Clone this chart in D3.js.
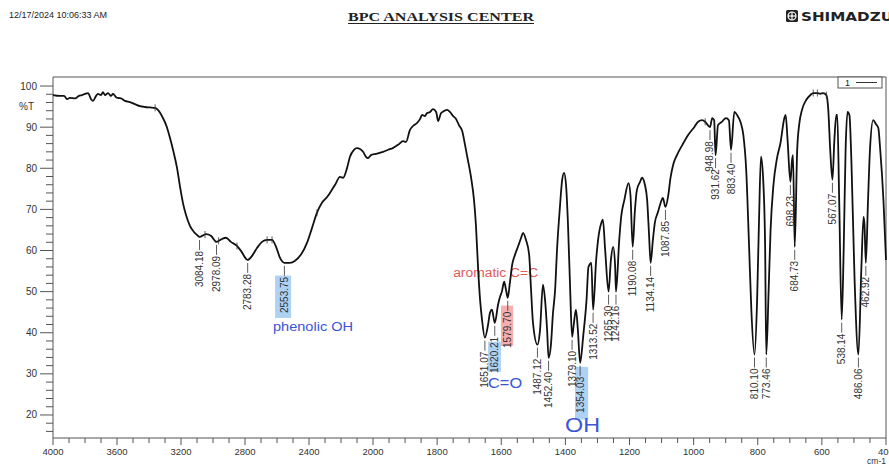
<!DOCTYPE html>
<html>
<head>
<meta charset="utf-8">
<script src="https://cdn.jsdelivr.net/npm/d3@7"></script>
<style>
	body { margin: 0; background: #fff; }
	svg { display: block; font-family: "Liberation Sans", Arial, sans-serif; }
</style>
</head>
<body>
<div id="chart"></div>
<script>
// spectrum: [wavenumber cm-1, %T]
var spectrum = [
	[4000, 97.8], [3956, 97.6], [3931, 97.6], [3912, 96.8], [3894, 97.1], [3862, 97.0], [3838, 97.6],
	[3819, 97.8], [3800, 98.1], [3781, 98.3], [3762, 96.8], [3750, 96.4], [3731, 97.6], [3719, 98.1],
	[3700, 97.8], [3688, 98.5], [3675, 97.8], [3656, 98.3], [3638, 97.6], [3625, 98.1], [3606, 97.3],
	[3594, 97.1], [3575, 97.0], [3550, 96.4], [3519, 96.1], [3488, 95.6], [3456, 95.1], [3425, 94.9],
	[3394, 94.8], [3362, 94.7], [3344, 94.2], [3319, 92.7], [3288, 90.0], [3269, 87.4], [3250, 84.5],
	[3225, 80.1], [3206, 75.5], [3188, 71.6], [3169, 68.7], [3144, 66.0], [3119, 64.5], [3100, 63.8],
	[3084.18, 63.3], [3044, 64.0], [3013, 63.6], [2978.09, 62.1], [2944, 62.8], [2919, 63.1], [2888, 62.1],
	[2850, 61.1], [2825, 59.9], [2783.28, 57.7], [2756, 58.7], [2725, 60.6], [2694, 62.1], [2662, 62.6],
	[2631, 62.6], [2606, 60.9], [2581, 58.2], [2553.75, 57.0], [2519, 57.0], [2487, 57.5], [2450, 59.0],
	[2412, 61.9], [2381, 65.5], [2350, 69.2], [2319, 71.6], [2287, 73.0], [2269, 74.0], [2237, 76.0],
	[2206, 77.9], [2187, 77.7], [2162, 80.1], [2144, 82.8], [2119, 84.5], [2100, 84.9], [2081, 84.7],
	[2062, 84.0], [2044, 82.8], [2031, 82.5], [2012, 83.2], [1991, 83.5], [1969, 84.0], [1953, 84.5],
	[1938, 84.9], [1922, 85.7], [1906, 86.6], [1897, 86.4], [1885, 89.3], [1872, 90.5], [1863, 91.0],
	[1853, 92.0], [1847, 93.0], [1838, 92.7], [1832, 93.4], [1822, 93.7], [1813, 94.4], [1803, 93.7],
	[1797, 91.5], [1788, 93.4], [1779, 93.9], [1769, 94.2], [1760, 93.7], [1750, 92.7], [1741, 92.0],
	[1732, 90.5], [1722, 89.1], [1713, 85.7], [1704, 82.0], [1694, 77.7], [1685, 72.3], [1679, 66.2],
	[1672, 55.3], [1666, 48.0], [1660, 43.2], [1651.07, 38.8], [1641, 42.0], [1635, 44.9], [1629, 45.6],
	[1620.21, 42.4], [1610, 46.8], [1604, 48.7], [1598, 50.0], [1591, 52.4], [1585, 50.4], [1579.70, 48.5],
	[1573, 52.2], [1566, 56.5], [1557, 59.0], [1548, 60.9], [1538, 63.1], [1532, 64.3], [1523, 62.6],
	[1513, 59.0], [1507, 50.4], [1501, 42.4], [1487.12, 37.1], [1479, 40.7], [1470, 51.7], [1464, 48.5],
	[1457, 40.7], [1452.40, 33.9], [1445, 37.1], [1439, 44.4], [1432, 50.5], [1426, 60.2], [1417, 70.6],
	[1410, 77.2], [1404, 78.9], [1398, 76.0], [1392, 66.7], [1385, 50.4], [1379.10, 39.0], [1374, 41.9],
	[1367, 45.6], [1361, 40.7], [1354.03, 32.7], [1344, 39.5], [1334, 48.0], [1328, 56.0], [1319, 57.0],
	[1313.52, 45.6], [1304, 57.7], [1298, 62.6], [1288, 66.7], [1283, 67.5], [1276, 60.2], [1265.30, 50.0],
	[1258, 57.7], [1251, 60.9], [1245, 56.5], [1242.16, 50.0], [1232, 62.6], [1226, 68.2], [1216, 72.3],
	[1203, 76.4], [1197, 73.5], [1190.08, 60.9], [1183, 69.9], [1177, 74.7], [1167, 76.7], [1161, 77.7],
	[1152, 76.0], [1145, 72.3], [1139, 63.8], [1134.14, 57.0], [1127, 62.6], [1121, 66.7], [1111, 69.4],
	[1102, 71.8], [1096, 72.8], [1087.85, 70.6], [1079, 73.5], [1072, 77.7], [1064, 80.8], [1052, 83.2],
	[1035, 85.7], [1017, 88.1], [998, 90.0], [986, 91.3], [973, 91.7], [964, 91.3], [948.98, 90.0],
	[942, 92.2], [936, 91.7], [931.62, 83.2], [924, 90.5], [912, 91.3], [899, 92.2], [890, 91.7],
	[883.40, 84.5], [873, 93.7], [864, 92.9], [854, 91.3], [845, 88.1], [836, 79.6], [827, 60.9],
	[820, 45.6], [810.10, 34.7], [802, 48.0], [796, 67.5], [790, 82.8], [783, 77.2], [777, 60.9],
	[773.46, 34.7], [766, 50.4], [760, 65.0], [751, 76.0], [741, 82.0], [729, 86.2], [717, 92.2],
	[713, 93.0], [707, 86.9], [698.23, 76.7], [693, 82.0], [690, 83.2], [684.73, 60.9], [677, 84.5],
	[671, 90.5], [662, 94.2], [649, 96.6], [636, 97.8], [627, 98.3], [614, 98.3], [605, 98.1],
	[596, 98.3], [586, 97.8], [580, 94.2], [574, 84.5], [567.07, 77.2], [561, 86.9], [555, 93.0],
	[552, 93.0], [546, 72.3], [538.14, 43.2], [532, 60.2], [526, 84.5], [520, 93.7], [514, 92.9],
	[508, 82.0], [498, 52.9], [486.06, 34.7], [477, 55.3], [470, 68.2], [467, 66.2], [462.92, 57.0],
	[456, 72.3], [450, 84.5], [440, 91.7], [431, 90.7], [424, 89.8], [418, 84.5], [408, 72.3], [400, 57.7]
];

// peak table printed on the chart
var peakLabels = ["3084.18", "2978.09", "2783.28", "2553.75", "1651.07", "1620.21", "1579.70", "1487.12",
	"1452.40", "1379.10", "1354.03", "1313.52", "1265.30", "1242.16", "1190.08", "1134.14", "1087.85",
	"948.98", "931.62", "883.40", "810.10", "773.46", "698.23", "684.73", "567.07", "538.14", "486.06", "462.92"];

// small pick marks sitting on the trace
var markerWn = [3362, 3050, 2965, 2850, 2662, 2631, 2350, 964, 627, 614, 586];

var xMajor = [4000, 3600, 3200, 2800, 2400, 2000, 1800, 1600, 1400, 1200, 1000, 800, 600, 400];
var yMajor = [100, 90, 80, 70, 60, 50, 40, 30, 20];

// hand-written notes on the print: [text, wavenumber, %T]
var notes = [
	["phenolic  OH", 2625, 40.5],
	["aromatic C=C", 1750, 53.6],
	["C=O", 1641, 26.6],
	["OH", 1401, 15.9]
];
// highlight boxes behind labels: [wnFrom, wnTo, %T top, %T bottom]
var highlights = [
	[2612, 2512, 53.9, 43.6],
	[1641, 1601, 37.8, 30.5],
	[1601, 1563, 46.6, 36.8],
	[1370, 1329, 31.7, 18.9]
];

var blue = "#3a55d6", red = "#e25a5a";
var noteStyle = [
	{ color: blue, size: 12.5, len: 80 },
	{ color: red, size: 12.5, len: 85 },
	{ color: blue, size: 15, len: 34 },
	{ color: blue, size: 21, len: 35 }
];
var hlColor = ["rgba(120,180,235,0.6)", "rgba(120,180,235,0.6)", "rgba(240,120,120,0.6)", "rgba(120,180,235,0.6)"];

var width = 889, height = 464;
var x = d3.scaleLinear().domain([4000, 2000, 400]).range([53, 373, 886]);
var y = d3.scaleLinear().domain([14.4, 102.2]).range([438, 77]);

var svg = d3.select("#chart")
	.append("svg")
	.attr("width", width)
	.attr("height", height);

// header
svg.append("text")
	.attr("x", 9)
	.attr("y", 18)
	.style("font-size", "9px")
	.style("fill", "#222")
	.text("12/17/2024 10:06:33 AM");
svg.append("text")
	.attr("x", 441)
	.attr("y", 21)
	.attr("text-anchor", "middle")
	.attr("textLength", 186)
	.attr("lengthAdjust", "spacingAndGlyphs")
	.style("font-family", "'Liberation Serif', 'Times New Roman', serif")
	.style("font-weight", "bold")
	.style("font-size", "13px")
	.style("fill", "#222")
	.text("BPC ANALYSIS CENTER");
svg.append("line")
	.attr("x1", 348).attr("x2", 534)
	.attr("y1", 23.5).attr("y2", 23.5)
	.style("stroke", "#222");

var logo = svg.append("g").attr("transform", "translate(786,10)");
logo.append("rect").attr("width", 12).attr("height", 12).attr("rx", 1.5).style("fill", "#222");
logo.append("circle").attr("cx", 6).attr("cy", 6).attr("r", 4).style("fill", "none").style("stroke", "#fff").style("stroke-width", 1.2);
logo.append("line").attr("x1", 2).attr("x2", 10).attr("y1", 6).attr("y2", 6).style("stroke", "#fff").style("stroke-width", 1.2);
logo.append("line").attr("x1", 6).attr("x2", 6).attr("y1", 2).attr("y2", 10).style("stroke", "#fff").style("stroke-width", 1.2);
svg.append("text")
	.attr("x", 801)
	.attr("y", 21)
	.attr("textLength", 92)
	.attr("lengthAdjust", "spacingAndGlyphs")
	.style("font-family", "'DejaVu Sans', Arial, sans-serif")
	.style("font-weight", "bold")
	.style("font-size", "12px")
	.style("fill", "#222")
	.text("SHIMADZU");

// highlight boxes go under the trace
svg.selectAll("rect.hl")
	.data(highlights)
	.enter()
	.append("rect")
	.attr("class", "hl")
	.attr("x", function(d) { return x(d[0]); })
	.attr("width", function(d) { return x(d[1]) - x(d[0]); })
	.attr("y", function(d) { return y(d[2]); })
	.attr("height", function(d) { return y(d[3]) - y(d[2]); })
	.style("fill", function(d, i) { return hlColor[i]; });

// frame
var axisColor = "#555";
svg.append("path")
	.attr("d", "M" + x(4000) + "," + y(14.4) + "V" + y(102.2) + "H" + x(400) + "V" + y(14.4) + "H" + x(4000))
	.style("fill", "none")
	.style("stroke", axisColor)
	.style("stroke-width", 1);

// x ticks: 100 steps above 2000, 50 steps below
var xMinor = d3.range(4000, 2000, -100).concat(d3.range(2000, 399, -50));
svg.selectAll("line.xminor")
	.data(xMinor)
	.enter()
	.append("line")
	.attr("x1", function(d) { return x(d); })
	.attr("x2", function(d) { return x(d); })
	.attr("y1", y(14.4))
	.attr("y2", function(d) { return y(14.4) + (xMajor.indexOf(d) >= 0 ? 7 : 5); })
	.style("stroke", axisColor);
svg.selectAll("text.xlab")
	.data(xMajor)
	.enter()
	.append("text")
	.attr("x", function(d) { return x(d); })
	.attr("y", 455)
	.attr("text-anchor", "middle")
	.style("font-size", "9.5px")
	.style("fill", "#333")
	.text(function(d) { return d; });
svg.append("text")
	.attr("x", 886)
	.attr("y", 463.5)
	.attr("text-anchor", "end")
	.style("font-size", "8.5px")
	.style("fill", "#333")
	.text("cm-1");

// y ticks
var yMinor = d3.range(16, 101, 2);
svg.selectAll("line.yminor")
	.data(yMinor)
	.enter()
	.append("line")
	.attr("x1", function(d) { return x(4000) - (d % 10 === 0 ? 13 : 7); })
	.attr("x2", x(4000))
	.attr("y1", function(d) { return y(d); })
	.attr("y2", function(d) { return y(d); })
	.style("stroke", axisColor);
svg.selectAll("text.ylab")
	.data(yMajor)
	.enter()
	.append("text")
	.attr("x", 37)
	.attr("y", function(d) { return y(d) + 3.5; })
	.attr("text-anchor", "end")
	.style("font-size", "10px")
	.style("fill", "#333")
	.text(function(d) { return d; });
svg.append("text")
	.attr("x", 19)
	.attr("y", y(95) + 3.5)
	.style("font-size", "10px")
	.style("fill", "#333")
	.text("%T");

// legend box
svg.append("rect")
	.attr("x", 838).attr("y", 77)
	.attr("width", 44).attr("height", 11)
	.style("fill", "#fff")
	.style("stroke", axisColor);
svg.append("text")
	.attr("x", 845).attr("y", 86)
	.style("font-size", "9px")
	.style("fill", "#222")
	.text("1");
svg.append("line")
	.attr("x1", 856).attr("x2", 877)
	.attr("y1", 82.5).attr("y2", 82.5)
	.style("stroke", "#333");

// notes
svg.selectAll("text.note")
	.data(notes)
	.enter()
	.append("text")
	.attr("class", "note")
	.attr("x", function(d) { return x(d[1]); })
	.attr("y", function(d) { return y(d[2]); })
	.attr("textLength", function(d, i) { return noteStyle[i].len; })
	.attr("lengthAdjust", "spacingAndGlyphs")
	.style("font-size", function(d, i) { return noteStyle[i].size + "px"; })
	.style("fill", function(d, i) { return noteStyle[i].color; })
	.text(function(d) { return d[0]; });

// trace
var line = d3.line()
	.x(function(d) { return x(d[0]); })
	.y(function(d) { return y(d[1]); })
	.curve(d3.curveMonotoneX);
svg.append("path")
	.datum(spectrum)
	.attr("d", line)
	.style("fill", "none")
	.style("stroke", "#111")
	.style("stroke-width", 1.8)
	.style("stroke-linejoin", "round");

// pick marks
var bis = d3.bisector(function(d) { return -d[0]; }).left;
function tAt(wn) {
	var i = bis(spectrum, -wn);
	if (i <= 0) return spectrum[0][1];
	var a = spectrum[i - 1], b = spectrum[i];
	return a[1] + (b[1] - a[1]) * (wn - a[0]) / (b[0] - a[0]);
}
svg.selectAll("line.mark")
	.data(markerWn)
	.enter()
	.append("line")
	.attr("x1", function(d) { return x(d); })
	.attr("x2", function(d) { return x(d); })
	.attr("y1", function(d) { return y(tAt(d)) - 3.5; })
	.attr("y2", function(d) { return y(tAt(d)) + 3.5; })
	.style("stroke", "#333")
	.style("stroke-width", 0.8);

// peak labels
var peaks = svg.selectAll("g.peak")
	.data(peakLabels)
	.enter()
	.append("g")
	.attr("class", "peak");
peaks.append("line")
	.attr("x1", function(d) { return x(+d); })
	.attr("x2", function(d) { return x(+d); })
	.attr("y1", function(d) { return y(tAt(+d)) + 3; })
	.attr("y2", function(d) { return y(tAt(+d)) + 13; })
	.style("stroke", "#333")
	.style("stroke-width", 0.8);
peaks.append("text")
	.attr("transform", function(d) { return "translate(" + (x(+d) + 3.5) + "," + (y(tAt(+d)) + 14) + ") rotate(-90)"; })
	.attr("text-anchor", "end")
	.style("font-size", "10px")
	.style("fill", "#333")
	.text(function(d) { return d; });
</script>
</body>
</html>
